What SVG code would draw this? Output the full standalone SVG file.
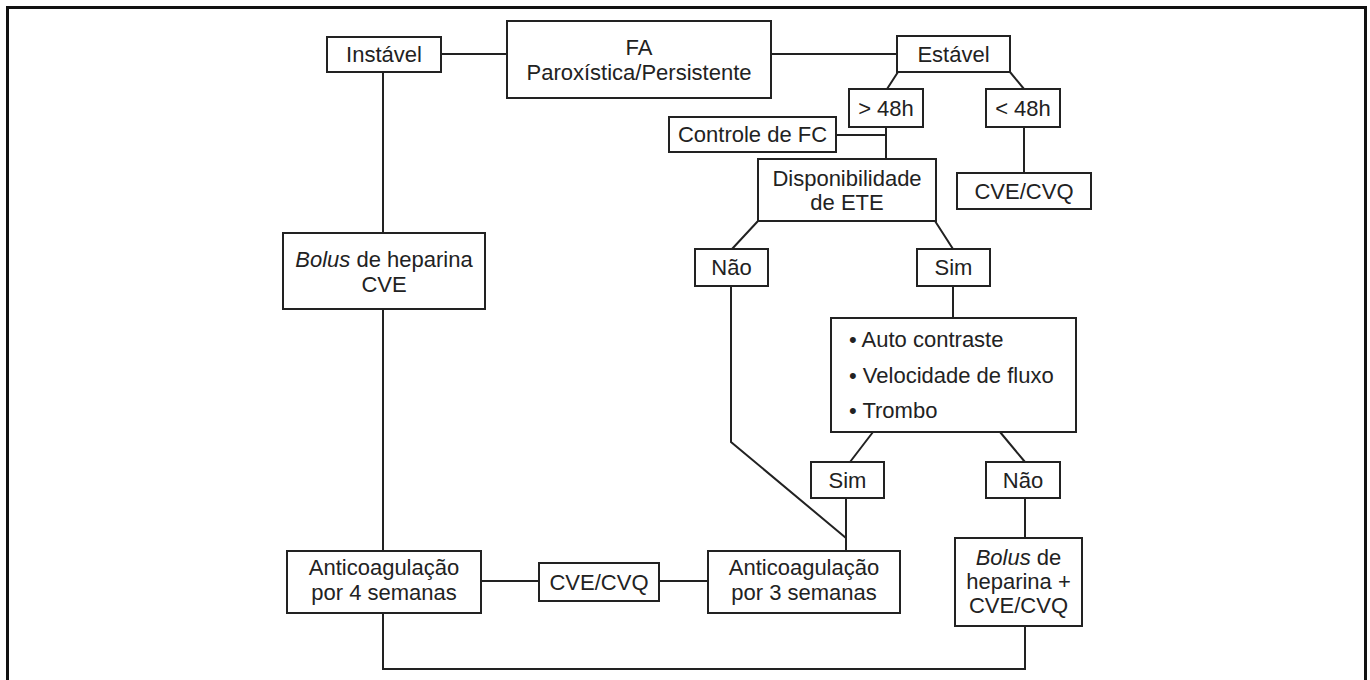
<svg xmlns="http://www.w3.org/2000/svg" width="1370" height="680" viewBox="0 0 1370 680">
<style>
.box{fill:#fff;stroke:#222;stroke-width:2}
.ln{fill:none;stroke:#222;stroke-width:2}
text{font-family:"Liberation Sans",Arial,sans-serif;font-size:22px;fill:#222;text-anchor:middle}
.l{text-anchor:start}
</style>
<rect x="0" y="0" width="1370" height="680" fill="#fff"/>
<rect x="7.5" y="7.5" width="1358" height="700" fill="none" stroke="#111" stroke-width="3"/>
<g id="connectors">
<path class="ln" d="M441 54H507M771 54H897"/>
<path class="ln" d="M383 72V233M383 309V551M383 613V669H1025V626"/>
<path class="ln" d="M898 72L887 89M1010 72L1024 89"/>
<path class="ln" d="M886 127V159M836 135H886"/>
<path class="ln" d="M1024 127V173"/>
<path class="ln" d="M758 221L732 249M935 221L953 249"/>
<path class="ln" d="M731 286V442L846 538"/>
<path class="ln" d="M953 286V318"/>
<path class="ln" d="M873 432L850 462M1000 432L1025 462"/>
<path class="ln" d="M846 498V551"/>
<path class="ln" d="M1025 498V538"/>
<path class="ln" d="M481 581H539M659 581H708"/>
</g>
<g id="instavel"><rect class="box" x="327" y="37" width="114" height="35"/><text x="384" y="62">Instável</text></g>
<g id="fa"><rect class="box" x="507" y="21" width="264" height="77"/><text x="639" y="55">FA</text><text x="639" y="80">Paroxística/Persistente</text></g>
<g id="estavel"><rect class="box" x="897" y="36" width="113" height="36"/><text x="953.5" y="62">Estável</text></g>
<g id="mais48"><rect class="box" x="849" y="89" width="74" height="38"/><text x="886" y="116">&gt; 48h</text></g>
<g id="menos48"><rect class="box" x="986" y="89" width="74" height="38"/><text x="1023" y="116">&lt; 48h</text></g>
<g id="controle"><rect class="box" x="669" y="117" width="167" height="35"/><text x="752.5" y="142">Controle de FC</text></g>
<g id="disponibilidade"><rect class="box" x="758" y="159" width="178" height="62"/><text x="847" y="186">Disponibilidade</text><text x="847" y="210">de ETE</text></g>
<g id="cve-cvq-top"><rect class="box" x="957" y="173" width="134" height="36"/><text x="1024" y="199">CVE/CVQ</text></g>
<g id="bolus-cve"><rect class="box" x="283" y="233" width="202" height="76"/><text x="384" y="267"><tspan font-style="italic">Bolus</tspan> de heparina</text><text x="384" y="292">CVE</text></g>
<g id="nao1"><rect class="box" x="695" y="249" width="73" height="37"/><text x="731.5" y="275">Não</text></g>
<g id="sim1"><rect class="box" x="917" y="249" width="73" height="37"/><text x="953.5" y="275">Sim</text></g>
<g id="ete-achados"><rect class="box" x="831" y="318" width="245" height="114"/><text class="l" x="849" y="347">• Auto contraste</text><text class="l" x="849" y="383">• Velocidade de fluxo</text><text class="l" x="849" y="418">• Trombo</text></g>
<g id="sim2"><rect class="box" x="811" y="462" width="73" height="36"/><text x="847.5" y="488">Sim</text></g>
<g id="nao2"><rect class="box" x="986" y="462" width="74" height="36"/><text x="1023" y="488">Não</text></g>
<g id="anticoag4"><rect class="box" x="287" y="551" width="194" height="62"/><text x="384" y="575">Anticoagulação</text><text x="384" y="600">por 4 semanas</text></g>
<g id="cve-cvq-mid"><rect class="box" x="539" y="563" width="120" height="38"/><text x="599" y="590">CVE/CVQ</text></g>
<g id="anticoag3"><rect class="box" x="708" y="551" width="192" height="62"/><text x="804" y="575">Anticoagulação</text><text x="804" y="600">por 3 semanas</text></g>
<g id="bolus-cvq"><rect class="box" x="955" y="538" width="127" height="88"/><text x="1018.5" y="565"><tspan font-style="italic">Bolus</tspan> de</text><text x="1018.5" y="589">heparina +</text><text x="1018.5" y="613">CVE/CVQ</text></g>
</svg>
